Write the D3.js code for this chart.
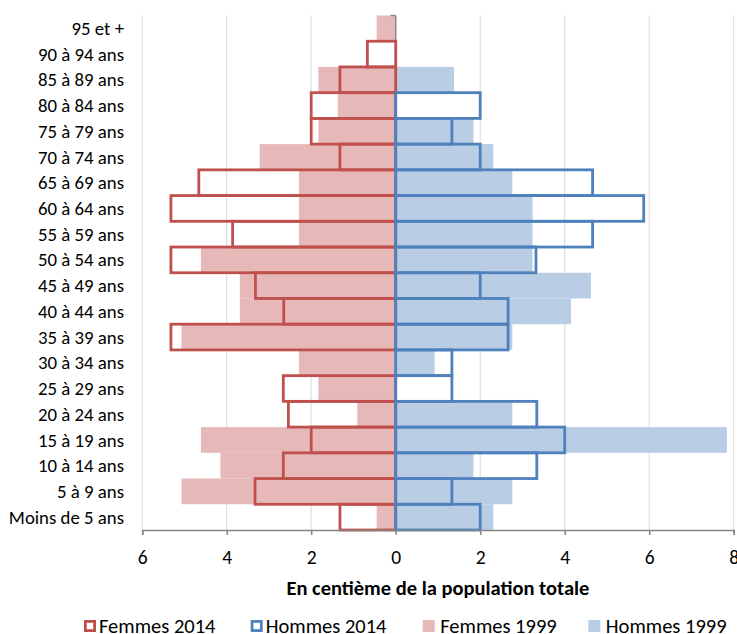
<!DOCTYPE html>
<html>
<head>
<meta charset="utf-8">
<script src="https://cdn.jsdelivr.net/npm/d3@7"></script>
<style>
  html, body { margin: 0; padding: 0; background: #fff; }
  svg { display: block; }
  text { font-family: Carlito, Lato, sans-serif; fill: #000; }
</style>
</head>
<body>
<script>
// ---- data (top row first) ----
const categories = ["95 et +","90 à 94 ans","85 à 89 ans","80 à 84 ans","75 à 79 ans","70 à 74 ans",
  "65 à 69 ans","60 à 64 ans","55 à 59 ans","50 à 54 ans","45 à 49 ans","40 à 44 ans","35 à 39 ans",
  "30 à 34 ans","25 à 29 ans","20 à 24 ans","15 à 19 ans","10 à 14 ans","5 à 9 ans","Moins de 5 ans"];
const femmes2014 = [0, 0.67, 1.32, 2.0, 2.0, 1.32, 4.66, 5.32, 3.86, 5.32, 3.32, 2.65, 5.32, 0, 2.66, 2.54, 2.0, 2.66, 3.33, 1.32];
const hommes2014 = [0, 0, 0, 2.0, 1.33, 2.0, 4.66, 5.87, 4.66, 3.32, 2.0, 2.66, 2.66, 1.33, 1.33, 3.34, 4.0, 3.34, 1.33, 2.0];
const femmes1999 = [0.45, 0, 1.83, 1.37, 1.83, 3.22, 2.29, 2.29, 2.29, 4.61, 3.69, 3.69, 5.07, 2.29, 1.83, 0.91, 4.61, 4.15, 5.07, 0.45];
const hommes1999 = [0, 0, 1.38, 0, 1.84, 2.31, 2.76, 3.24, 3.24, 3.24, 4.62, 4.15, 2.76, 0.92, 0, 2.76, 7.84, 1.84, 2.76, 2.31];
const xTicks = [-6, -4, -2, 0, 2, 4, 6, 8];
const axisTitle = "En centième de la population totale";
const legendLabels = ["Femmes 2014", "Hommes 2014", "Femmes 1999", "Hommes 1999"];

const W = 737, H = 634;
const C = { red: "#C0504D", blue: "#4F81BD", pink: "#E6B9B8", lblue: "#B9CDE5", grid: "#D9D9D9", axis: "#868686" };

const svg = d3.select("body").append("svg").attr("width", W).attr("height", H);

const x = d3.scaleLinear().domain([-6, 8]).range([142.2, 733.7]);
const y = d3.scaleBand().domain(categories).range([15.5, 530]).padding(0);
const FS = 20.5, FS_CAT = 18.8, FS_TICK = 19.5;

// gridlines
svg.append("g").selectAll("line").data(xTicks.filter(d => d !== 0)).join("line")
  .attr("x1", d => x(d)).attr("x2", d => x(d))
  .attr("y1", 15.5).attr("y2", 530)
  .attr("stroke", C.grid).attr("stroke-width", 1);

// 1999 filled bars
function filled(vals, sign, color) {
  svg.append("g").selectAll("rect").data(categories).join("rect")
    .attr("x", (c, i) => Math.min(x(0), x(sign * vals[i])))
    .attr("width", (c, i) => Math.abs(x(sign * vals[i]) - x(0)))
    .attr("y", c => y(c))
    .attr("height", y.bandwidth())
    .attr("fill", color);
}
filled(femmes1999, -1, C.pink);
filled(hommes1999, 1, C.lblue);

// vertical axis with ticks
const yAxisG = svg.append("g");
yAxisG.append("line").attr("x1", x(0)).attr("x2", x(0)).attr("y1", 15.5).attr("y2", 530)
  .attr("stroke", C.axis).attr("stroke-width", 1.5);
const bounds = categories.map(c => y(c)).concat([530]);
yAxisG.selectAll("line.t").data(bounds).join("line").attr("class", "t")
  .attr("x1", x(0) - 5).attr("x2", x(0)).attr("y1", d => d).attr("y2", d => d)
  .attr("stroke", C.axis).attr("stroke-width", 1.5);

// 2014 outlines
function outline(vals, sign, color) {
  svg.append("g").selectAll("rect").data(categories.filter((c, i) => vals[i] > 0)).join("rect")
    .attr("x", c => { const v = vals[categories.indexOf(c)]; return Math.min(x(0), x(sign * v)); })
    .attr("width", c => { const v = vals[categories.indexOf(c)]; return Math.abs(x(sign * v) - x(0)); })
    .attr("y", c => y(c))
    .attr("height", y.bandwidth())
    .attr("fill", "none").attr("stroke", color).attr("stroke-width", 2.8);
}
outline(femmes2014, -1, C.red);
outline(hommes2014, 1, C.blue);

// category labels
svg.append("g").selectAll("text").data(categories).join("text")
  .attr("x", 124).attr("y", c => y(c) + y.bandwidth() / 2)
  .attr("dy", "0.35em").attr("text-anchor", "end").attr("font-size", FS_CAT)
  .text(c => c);

// bottom axis
const xAxis = d3.axisBottom(x).tickValues(xTicks).tickFormat(d => Math.abs(d)).tickSize(5);
const xg = svg.append("g").attr("transform", "translate(0,530)").call(xAxis);
xg.select(".domain").attr("stroke", C.axis).attr("stroke-width", 1.5);
xg.selectAll(".tick line").attr("stroke", C.axis).attr("stroke-width", 1.5);
xg.selectAll(".tick text").attr("font-size", FS_TICK).attr("font-family", "Carlito, Lato, sans-serif")
  .attr("fill", "#000").attr("y", 27).attr("dy", "0.35em");

svg.append("text").attr("x", (x(-6) + x(8)) / 2).attr("y", 588).attr("dy", "0.35em")
  .attr("text-anchor", "middle").attr("font-size", FS).attr("font-weight", "bold").text(axisTitle);

// legend
const legendX = [84, 250.7, 422.7, 588.3];
const legendStyle = [
  { fill: "none", stroke: C.red }, { fill: "none", stroke: C.blue },
  { fill: C.pink, stroke: "none" }, { fill: C.lblue, stroke: "none" }];
const lg = svg.append("g").selectAll("g").data(legendLabels).join("g")
  .attr("transform", (d, i) => `translate(${legendX[i]},620)`);
lg.append("rect").attr("x", (d, i) => legendStyle[i].fill === "none" ? 1.4 : 0)
  .attr("y", (d, i) => legendStyle[i].fill === "none" ? 1.4 : 0)
  .attr("width", (d, i) => legendStyle[i].fill === "none" ? 9.2 : 12)
  .attr("height", (d, i) => legendStyle[i].fill === "none" ? 9.2 : 12)
  .attr("fill", (d, i) => legendStyle[i].fill)
  .attr("stroke", (d, i) => legendStyle[i].stroke).attr("stroke-width", 2.8);
lg.append("text").attr("x", (d, i) => i < 2 ? 15 : 17.5).attr("y", 6).attr("dy", "0.35em")
  .attr("font-size", FS).text(d => d);
</script>
</body>
</html>
